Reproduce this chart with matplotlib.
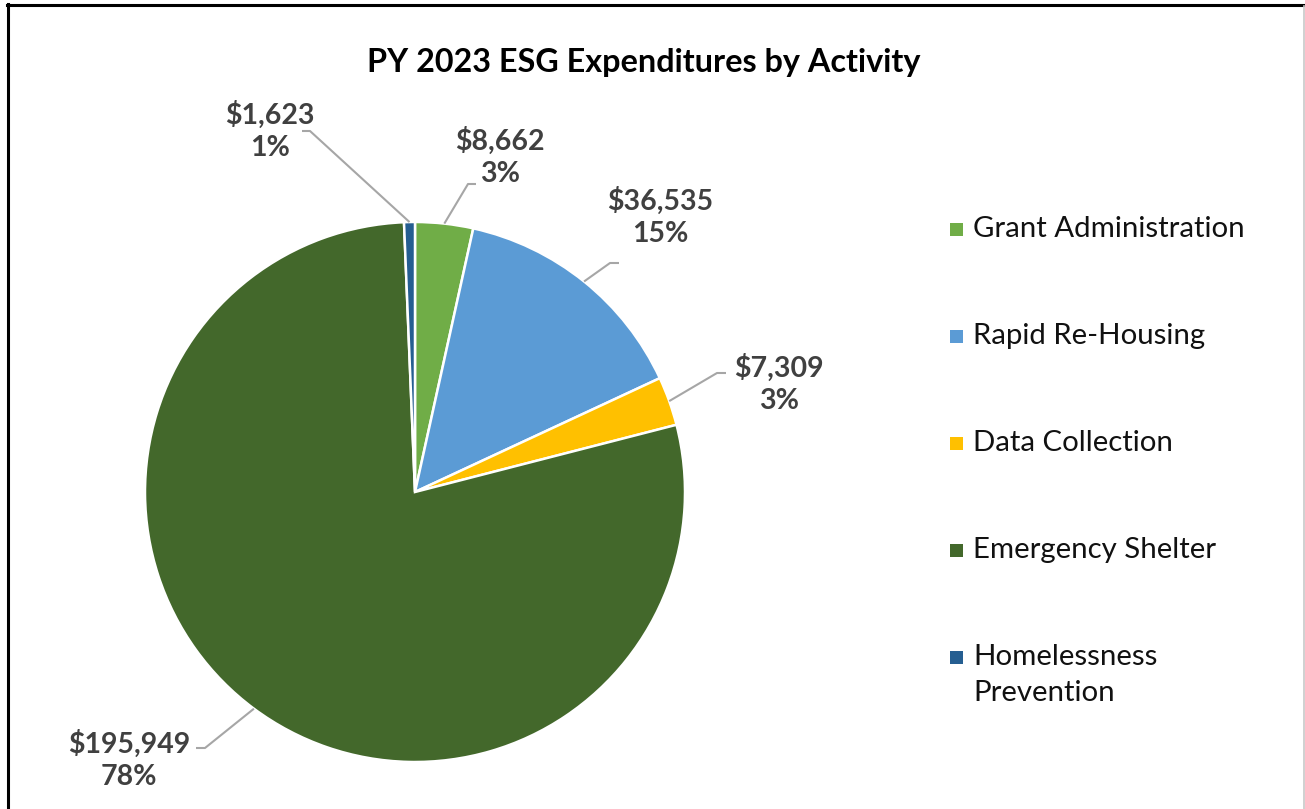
import matplotlib
matplotlib.use("Agg")
import matplotlib.pyplot as plt
from matplotlib.patches import Rectangle
from matplotlib.lines import Line2D
import numpy as np

title = "PY 2023 ESG Expenditures by Activity"
categories = ["Grant Administration", "Rapid Re-Housing", "Data Collection",
              "Emergency Shelter", "Homelessness Prevention"]
legend_labels = ["Grant Administration", "Rapid Re-Housing", "Data Collection",
                 "Emergency Shelter", "Homelessness\nPrevention"]
values = [8662, 36535, 7309, 195949, 1623]
percent_labels = ["3%", "15%", "3%", "78%", "1%"]
colors = ["#70AD47", "#5B9BD5", "#FFC000", "#43682B", "#255E91"]

W, H = 1305, 809
FONT = ["Lato", "DejaVu Sans"]
plt.rcParams["font.family"] = FONT

fig = plt.figure(figsize=(W / 100, H / 100), dpi=100)
ax = fig.add_axes([0, 0, 1, 1])

cx, cy, R = 415, 492, 270
# pie in pixel-like coordinates (y axis inverted -> counterclock=True draws clockwise on screen)
wedges, _ = ax.pie(values, colors=colors, startangle=-90, counterclock=True,
                   center=(cx, cy), radius=R, frame=True,
                   wedgeprops=dict(edgecolor="white", linewidth=1.8))
ax.set_xlim(0, W)
ax.set_ylim(H, 0)
ax.set_aspect("equal")
ax.axis("off")

# label layout (text block centres and leader elbows)
label_pos = [(500, 157), (660, 217), (779, 384), (129, 760), (270, 131)]
elbows = [((468, 184), (476, 184)), ((610, 263), (619, 263)),
          ((717, 373), (726, 373)), ((205, 748), (196, 748)),
          ((310, 131), (302, 131))]

for w, v, p, (lx, ly), (e1, e2) in zip(wedges, values, percent_labels, label_pos, elbows):
    ang = np.deg2rad((w.theta1 + w.theta2) / 2)
    ex = cx + R * np.cos(ang)
    ey = cy + R * np.sin(ang)
    ax.add_line(Line2D([ex, e1[0], e2[0]], [ey, e1[1], e2[1]], color="#A6A6A6", lw=1.5,
                       solid_capstyle="butt", zorder=1))
    ax.text(lx, ly, f"${v:,}\n{p}", ha="center", va="center", fontsize=20.5,
            fontweight="bold", color="#404040", linespacing=1.3)

ax.text(644, 62, title, ha="center", va="center", fontsize=23.3,
        fontweight="bold", color="black")

# legend (manual layout, right side)
leg_x, leg_y0, leg_dy, line_dy, sq = 950, 229, 107, 36, 13
for i, (lab, c) in enumerate(zip(legend_labels, colors)):
    y = leg_y0 + i * leg_dy
    ax.add_patch(Rectangle((leg_x, y - sq / 2), sq, sq, facecolor=c, edgecolor="none"))
    for j, line in enumerate(lab.split("\n")):
        ax.text(leg_x + 23, y + j * line_dy, line, ha="left", va="center",
                fontsize=21.2, color="#111111")

# chart frame
fig.add_artist(Line2D([7.5 / W, 7.5 / W], [0, 1 - 4 / H], color="black", lw=2.2,
                      transform=fig.transFigure))
fig.add_artist(Line2D([6.5 / W, 1304 / W], [1 - 5 / H, 1 - 5 / H], color="black", lw=2.2,
                      transform=fig.transFigure))
fig.add_artist(Line2D([1303.5 / W, 1303.5 / W], [0, 1 - 6 / H], color="#C8C8C8", lw=1.2,
                      transform=fig.transFigure))

fig.savefig("out.png", dpi=100, facecolor="white")
